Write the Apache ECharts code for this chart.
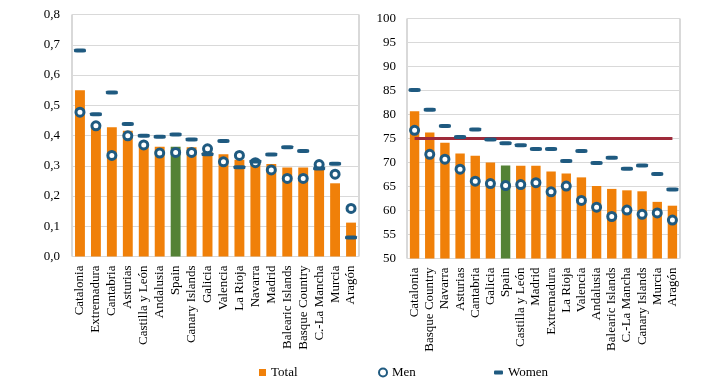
<!DOCTYPE html>
<html><head><meta charset="utf-8">
<script src="https://cdn.jsdelivr.net/npm/echarts@6/dist/echarts.min.js"></script>
<style>html,body{margin:0;padding:0;background:#fff}#c{width:701px;height:384px}</style>
</head><body><div id="c"></div>
<script>
const leftCats = ['Catalonia','Extremadura','Cantabria','Asturias','Castilla y León','Andalusia','Spain','Canary Islands','Galicia','Valencia','La Rioja','Navarra','Madrid','Balearic Islands','Basque Country','C.-La Mancha','Murcia','Aragón'];
const leftTotal = [0.55,0.43,0.427,0.416,0.37,0.363,0.363,0.361,0.345,0.338,0.32,0.31,0.306,0.294,0.294,0.29,0.242,0.112];
const leftMen   = [0.477,0.432,0.334,0.399,0.369,0.342,0.344,0.344,0.356,0.313,0.334,0.31,0.286,0.258,0.258,0.304,0.272,0.159];
const leftWomen = [0.681,0.47,0.542,0.438,0.399,0.396,0.403,0.387,0.338,0.382,0.295,0.314,0.337,0.361,0.349,0.291,0.307,0.063];

const rightCats = ['Catalonia','Basque Country','Navarra','Asturias','Cantabria','Galicia','Spain','Castilla y León','Madrid','Extremadura','La Rioja','Valencia','Andalusia','Balearic Islands','C.-La Mancha','Canary Islands','Murcia','Aragón'];
const rightTotal = [80.7,76.25,74.1,71.9,71.4,70.0,69.4,69.3,69.3,68.1,67.7,66.9,65.1,64.5,64.2,64.0,61.8,61.0];
const rightMen   = [76.7,71.7,70.7,68.6,66.1,65.6,65.2,65.4,65.8,63.9,65.1,62.1,60.7,58.75,60.1,59.2,59.5,58.0];
const rightWomen = [85.1,81.0,77.6,75.3,76.9,74.8,74.0,73.6,72.8,72.8,70.3,72.4,69.9,71.0,68.7,69.4,67.6,64.4];
const rightTarget = 75;

const ORANGE = '#F08009', GREEN = '#548235', NAVY = '#1F5A80', RED = '#9E2A3A';
const FONT = 'Liberation Serif';

function barData(cats, vals) {
  return vals.map((v, i) => cats[i] === 'Spain' ? {value: v, itemStyle: {color: GREEN}} : v);
}
function xAx(idx, cats) {
  return {type: 'category', gridIndex: idx, data: cats,
    axisLine: {show: false}, axisTick: {show: false},
    axisLabel: {rotate: 90, interval: 0, margin: 9, color: '#000', fontFamily: FONT, fontSize: 13}};
}
function yAx(idx, min, max, step, fmt, margin) {
  return {type: 'value', gridIndex: idx, min: min, max: max, interval: step,
    axisLine: {show: false}, axisTick: {show: false},
    splitLine: {lineStyle: {color: '#d9d9d9', width: 1}},
    axisLabel: {color: '#000', fontFamily: FONT, fontSize: 13, margin: margin, formatter: fmt}};
}
function series(idx, cats, total, men, women) {
  return [
    {name: 'Total', type: 'bar', xAxisIndex: idx, yAxisIndex: idx, barWidth: '62%',
     itemStyle: {color: ORANGE}, data: barData(cats, total), z: 2},
    {name: 'Men', type: 'scatter', xAxisIndex: idx, yAxisIndex: idx, symbol: 'circle', symbolSize: 8,
     itemStyle: {color: '#fff', borderColor: NAVY, borderWidth: 3, opacity: 1}, data: men, z: 4},
    {name: 'Women', type: 'scatter', xAxisIndex: idx, yAxisIndex: idx, symbol: 'roundRect', symbolSize: [12, 4],
     itemStyle: {color: NAVY, opacity: 1}, data: women, z: 5}
  ];
}

const chart = echarts.init(document.getElementById('c'), null, {renderer: 'canvas'});
const s = [].concat(series(0, leftCats, leftTotal, leftMen, leftWomen), series(1, rightCats, rightTotal, rightMen, rightWomen));
s.push({name: 'Target', type: 'line', xAxisIndex: 1, yAxisIndex: 1, data: [], z: 3,
  markLine: {silent: true, symbol: 'none', label: {show: false},
    lineStyle: {color: RED, width: 3, type: 'solid'},
    data: [[{xAxis: rightCats[0], yAxis: rightTarget}, {xAxis: rightCats[rightCats.length - 1], yAxis: rightTarget}]]}});

const legendText = {color: '#000', fontFamily: FONT, fontSize: 13};
chart.setOption({
  animation: false,
  grid: [
    {left: 72, top: 14.5, width: 287, height: 242, show: true, borderColor: '#b3b3b3', borderWidth: 1},
    {left: 407, top: 18.5, width: 273, height: 240, show: true, borderColor: '#b3b3b3', borderWidth: 1}
  ],
  xAxis: [xAx(0, leftCats), xAx(1, rightCats)],
  yAxis: [
    yAx(0, 0, 0.8, 0.1, v => v.toFixed(1).replace('.', ','), 12),
    yAx(1, 50, 100, 5, v => String(v), 11)
  ],
  legend: [
    {data: ['Total'], left: 254, top: 361, icon: 'rect', itemWidth: 7, itemHeight: 7, itemGap: 5, textStyle: legendText},
    {data: ['Men'], left: 373, top: 361, itemWidth: 8, itemHeight: 8, textStyle: legendText},
    {data: ['Women'], left: 489, top: 361, icon: 'roundRect', itemWidth: 9, itemHeight: 4, textStyle: legendText}
  ],
  series: s
});
</script></body></html>
